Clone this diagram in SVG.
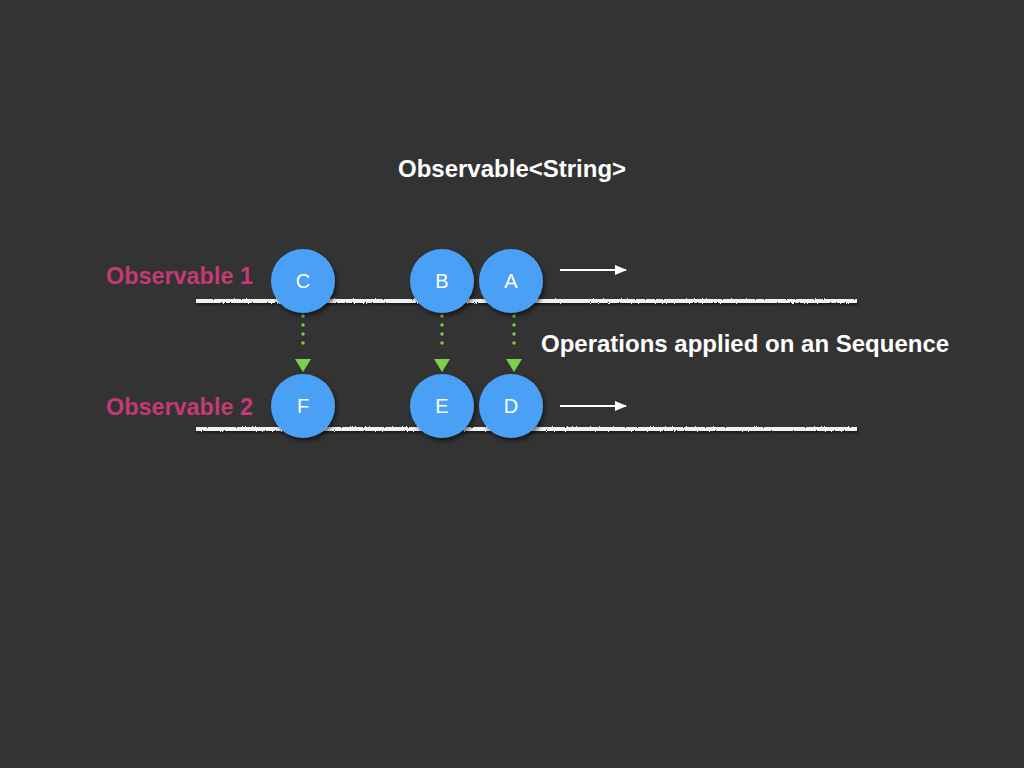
<svg xmlns="http://www.w3.org/2000/svg" width="1024" height="768" viewBox="0 0 1024 768">
<defs>
<filter id="sh" x="-30%" y="-30%" width="170%" height="170%"><feDropShadow dx="2" dy="3" stdDeviation="2" flood-color="#000" flood-opacity="0.55"/></filter>
<filter id="rough" filterUnits="userSpaceOnUse" x="180" y="280" width="700" height="170"><feTurbulence type="fractalNoise" baseFrequency="0.9" numOctaves="2" seed="3"/><feDisplacementMap in="SourceGraphic" scale="2.5"/><feDropShadow dx="1" dy="2" stdDeviation="1" flood-color="#000" flood-opacity="0.5"/></filter>
<marker id="wa" markerWidth="12" markerHeight="10" refX="11" refY="5" orient="auto" markerUnits="userSpaceOnUse"><path d="M0,0 L12,5 L0,10 Z" fill="#fff"/></marker>
<style>
.node circle{fill:#4aa0f5;filter:url(#sh)}
.node text{fill:#fff;font-family:"Liberation Sans",Arial,sans-serif;font-size:20px;text-anchor:middle}
.lbl{fill:#c33a75;font-family:"Liberation Sans",Arial,sans-serif;font-size:23.4px;font-weight:bold}
.title{fill:#fff;font-family:"Liberation Sans",Arial,sans-serif;font-size:24px;font-weight:bold}
.tl{fill:#f2f2f2;filter:url(#rough)}
.dot{stroke:#7ed04b;stroke-width:3.5;stroke-linecap:round;stroke-dasharray:0 9}
.wa{stroke:#fff;stroke-width:2;marker-end:url(#wa)}
</style>
</defs>
<rect width="1024" height="768" fill="#333333"/>
<text class="title" x="398" y="177">Observable&lt;String&gt;</text>
<text class="lbl" x="106" y="284">Observable 1</text>
<text class="lbl" x="106" y="415">Observable 2</text>
<text class="title" x="541" y="352">Operations applied on an Sequence</text>
<g id="timelines">
<rect class="tl" x="196" y="299" width="661" height="4"/>
<rect class="tl" x="196" y="427" width="661" height="4"/>
</g>
<g id="connectors">
<line class="dot" x1="303" y1="316" x2="303" y2="352"/>
<line class="dot" x1="442" y1="316" x2="442" y2="352"/>
<line class="dot" x1="514" y1="316" x2="514" y2="352"/>
<path d="M295,359 L311,359 L303,372 Z" fill="#7ed04b"/>
<path d="M434,359 L450,359 L442,372 Z" fill="#7ed04b"/>
<path d="M506,359 L522,359 L514,372 Z" fill="#7ed04b"/>
<line class="wa" x1="560" y1="270" x2="626" y2="270"/>
<line class="wa" x1="560" y1="406" x2="626" y2="406"/>
</g>
<g id="node-C" class="node"><circle cx="303" cy="281" r="32"/><text x="303" y="288">C</text></g>
<g id="node-B" class="node"><circle cx="442" cy="281" r="32"/><text x="442" y="288">B</text></g>
<g id="node-A" class="node"><circle cx="511" cy="281" r="32"/><text x="511" y="288">A</text></g>
<g id="node-F" class="node"><circle cx="303" cy="406" r="32"/><text x="303" y="413">F</text></g>
<g id="node-E" class="node"><circle cx="442" cy="406" r="32"/><text x="442" y="413">E</text></g>
<g id="node-D" class="node"><circle cx="511" cy="406" r="32"/><text x="511" y="413">D</text></g>
</svg>
